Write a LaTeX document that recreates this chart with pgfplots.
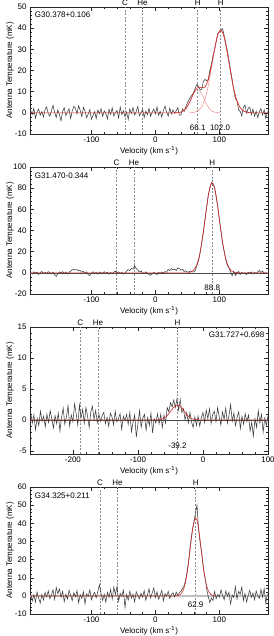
\documentclass[border=0pt]{standalone}
\usepackage{pgfplots}
\pgfplotsset{compat=1.18}
\usepackage{fontspec}
\setmainfont{Liberation Sans}
\definecolor{specgray}{HTML}{3C3C3C}
\definecolor{fitred}{HTML}{D42A2A}
\definecolor{comppink}{HTML}{F28A8A}
\definecolor{dashgray}{HTML}{8A8A8A}
\newcommand{\lbl}{\fontsize{8}{9}\selectfont}
\tikzset{
  lab/.style={font=\lbl, anchor=base, yshift=1.2pt, inner sep=0pt},
  specline/.style={specgray, line width=0.55pt},
  dline/.style={dashgray, line width=0.45pt, dash pattern=on 2pt off 1.6pt},
  zline/.style={black!70, line width=0.4pt},
}
\pgfplotsset{
  panel/.style={
    width=238pt, height=127pt, scale only axis, anchor=south west,
    clip mode=individual,
    /pgf/number format/assume math mode=true,
    scaled ticks=false,
    tick label style={font=\lbl},
    tick align=inside,
    major tick length=4pt, minor tick length=2pt,
    every tick/.style={black!85, line width=0.4pt},
    axis line style={black!85, line width=0.5pt},
    xticklabel style={yshift=1pt},
    xlabel={Velocity (km s\textsuperscript{-1})},
    ylabel={Antenna Temperature (mK)},
    every axis x label/.style={at={(axis description cs:0.5,-0.13)}, anchor=center, font=\lbl},
    every axis y label/.style={at={(axis description cs:-0.084,0.5)}, rotate=90, anchor=center, font=\lbl},
    minor x tick num=4,
  },
}
\begin{document}
\begin{tikzpicture}
\useasboundingbox (0,0) rectangle (273pt,636pt);

% ---------------- Panel 1 ----------------
\begin{axis}[panel, at={(30pt,502pt)},
  xmin=-196, xmax=176, ymin=-10, ymax=50,
  xtick={-100,0,100}, ytick={-10,0,10,20,30,40,50}, minor y tick num=4]
\addplot[dline] coordinates {(-47.5,-10) (-47.5,50)};
\addplot[dline] coordinates {(-20.2,-10) (-20.2,50)};
\addplot[dline] coordinates {(66.1,-10) (66.1,50)};
\addplot[dline] coordinates {(102.0,-10) (102.0,50)};
\addplot[specline] table[header=false, row sep=\\, x expr=\coordindex*2.5-195, y index=0]{
1.2\\ -0.8\\ 2.1\\ -2.5\\ 0.4\\ 1.8\\ -1.1\\ 0.6\\ -2.0\\ 1.5\\
2.8\\ -0.3\\ -1.6\\ 1.0\\ 3.5\\ 0.2\\ -2.2\\ 1.4\\ -0.9\\ -3.8\\
0.7\\ 2.4\\ -1.3\\ 0.3\\ 1.9\\ -2.7\\ 0.9\\ 3.1\\ 2.2\\ -0.5\\
3.4\\ 1.1\\ -1.8\\ 2.6\\ 0.8\\ -2.3\\ -0.6\\ 1.6\\ -3.0\\ -1.2\\
0.5\\ -2.6\\ 1.3\\ -0.4\\ 2.0\\ -1.7\\ 0.9\\ -0.2\\ -2.9\\ 1.7\\
-0.7\\ 2.3\\ -1.5\\ 0.1\\ 1.2\\ -2.4\\ 2.7\\ -0.8\\ 1.0\\ -1.9\\
0.4\\ -3.1\\ 1.8\\ -0.3\\ 2.5\\ -1.0\\ 0.6\\ 3.0\\ -1.4\\ -0.1\\
1.5\\ -2.2\\ 0.8\\ -0.9\\ 2.1\\ -1.6\\ 0.3\\ 1.9\\ -0.5\\ 2.8\\
-1.2\\ 0.7\\ -2.0\\ 1.1\\ 3.2\\ 0.4\\ -1.5\\ 2.2\\ -0.6\\ 1.4\\
-0.3\\ 0.9\\ 2.5\\ -1.1\\
-1.0\\ 1.9\\ 0.6\\ 2.9\\ 4.6\\ 6.2\\ 7.5\\ 8.5\\ 9.7\\ 11.9\\
13.5\\ 12.4\\ 10.8\\ 11.1\\ 14.9\\ 15.8\\ 15.1\\ 15.7\\ 19.9\\ 22.8\\
27.0\\ 29.7\\ 33.6\\ 37.4\\ 38.3\\ 39.0\\ 39.7\\ 36.5\\ 32.8\\ 29.4\\
24.7\\ 20.2\\ 15.8\\ 10.6\\ 6.8\\ 5.6\\ 1.5\\ 0.7\\ -1.5\\ 2.6\\
3.7\\ -0.1\\ 2.0\\ 2.7\\ -0.9\\ 1.7\\ -1.6\\ 0.8\\ -2.2\\ 0.5\\
2.0\\ -1.0\\ 1.4\\ -2.5\\ 0.6\\
};
\addplot[comppink, line width=0.5pt] coordinates {
(30,0.02) (32,0.03) (34,0.07) (36,0.12) (38,0.22) (40,0.37) (42,0.62) (44,0.98) (46,1.49) (48,2.18)
(50,3.06) (52,4.13) (54,5.36) (56,6.67) (58,7.99) (60,9.19) (62,10.15) (64,10.78) (66,11.0) (68,10.78)
(70,10.15) (72,9.19) (74,7.99) (76,6.67) (78,5.36) (80,4.13) (82,3.06) (84,2.18) (86,1.49) (88,0.98)
(90,0.62) (92,0.37) (94,0.22) (96,0.12) (98,0.07) (100,0.03) (102,0.02)};
\addplot[comppink, line width=0.5pt] coordinates {
(54,0.04) (56,0.07) (58,0.13) (60,0.21) (62,0.34) (64,0.54) (66,0.84) (68,1.28) (70,1.88) (72,2.72)
(74,3.83) (76,5.27) (78,7.10) (80,9.32) (82,11.93) (84,14.95) (86,18.29) (88,21.84) (90,25.47) (92,29.02)
(94,32.27) (96,35.06) (98,37.21) (100,38.53) (102,39.0) (104,38.53) (106,37.21) (108,35.06) (110,32.27) (112,29.02)
(114,25.47) (116,21.84) (118,18.29) (120,14.95) (122,11.93) (124,9.32) (126,7.10) (128,5.27) (130,3.83) (132,2.72)
(134,1.88) (136,1.28) (138,0.84) (140,0.54) (142,0.34) (144,0.21) (146,0.13) (148,0.07) (150,0.04)};
\addplot[fitred, line width=0.6pt] coordinates {
(-196,0) (28,0) (30,0.02) (32,0.03) (34,0.07) (36,0.12) (38,0.22) (40,0.37) (42,0.62) (44,0.98) (46,1.49) (48,2.18)
(50,3.06) (52,4.13) (54,5.40) (56,6.74) (58,8.12) (60,9.40) (62,10.49) (64,11.32) (66,11.84) (68,12.06)
(70,12.03) (72,11.91) (74,11.82) (76,11.94) (78,12.46) (80,13.45) (82,14.99) (84,17.13) (86,19.78) (88,22.82)
(90,26.09) (92,29.39) (94,32.49) (96,35.18) (98,37.28) (100,38.56) (102,39.02) (104,38.53) (106,37.21) (108,35.06)
(110,32.27) (112,29.02) (114,25.47) (116,21.84) (118,18.29) (120,14.95) (122,11.93) (124,9.32) (126,7.10) (128,5.27)
(130,3.83) (132,2.72) (134,1.88) (136,1.28) (138,0.84) (140,0.54) (142,0.34) (144,0.21) (146,0.13) (148,0.07) (150,0.04) (152,0) (176,0)};
\node[lab] at (axis cs:-47.5,50) {C};
\node[lab] at (axis cs:-20.2,50) {He};
\node[lab] at (axis cs:66.1,50) {H};
\node[lab] at (axis cs:102.0,50) {H};
\node[font=\lbl] at (axis cs:66.1,-7) {66.1};
\node[font=\lbl] at (axis cs:101,-7) {102.0};
\node[font=\lbl, anchor=west, inner sep=0pt] at (rel axis cs:0.02,0.937) {G30.378+0.106};
\end{axis}

% ---------------- Panel 2 ----------------
\begin{axis}[panel, at={(30pt,342pt)},
  xmin=-196, xmax=176, ymin=-20, ymax=100,
  xtick={-100,0,100}, ytick={-20,0,20,40,60,80,100}, minor y tick num=4]
\addplot[dline] coordinates {(-60.7,-20) (-60.7,100)};
\addplot[dline] coordinates {(-33.4,-20) (-33.4,100)};
\addplot[dline] coordinates {(88.8,-20) (88.8,100)};
\addplot[zline] coordinates {(-196,0) (176,0)};
\addplot[specline] table[header=false, row sep=\\, x expr=\coordindex*2.5-195, y index=0]{
0.5\\ -1.2\\ 1.0\\ -0.4\\ 0.8\\ -1.5\\ 0.2\\ 1.3\\ -0.6\\ 0.4\\
-1.0\\ 1.1\\ 0.3\\ -0.9\\ 0.6\\ -2.0\\ -3.5\\ -0.8\\ 0.9\\ -0.2\\
1.2\\ -0.5\\ 0.7\\ -1.1\\ 0.4\\ 1.6\\ 2.8\\ 3.4\\ 2.5\\ 3.1\\
1.9\\ 2.3\\ 0.6\\ 1.4\\ -0.3\\ 0.9\\ -1.8\\ -2.6\\ -0.4\\ 1.0\\
-0.7\\ 0.5\\ -1.3\\ 0.8\\ 0.2\\ -0.9\\ 1.1\\ -0.5\\ 0.6\\ -1.4\\
0.3\\ -0.8\\ 0.7\\ 1.5\\ -0.2\\ 0.9\\ -0.6\\ 0.4\\ -1.2\\ -0.3\\
1.8\\ 3.0\\ 2.2\\ 4.1\\ 3.5\\ 6.8\\ 4.0\\ 2.6\\ 0.8\\ 1.9\\
0.2\\ -0.9\\ 1.0\\ -0.4\\ -1.6\\ -2.4\\ -1.0\\ 0.3\\ -0.5\\ -1.8\\
0.4\\ -0.6\\ 0.9\\ -0.3\\ 1.2\\ 0.6\\ 3.2\\ 2.1\\ 4.0\\ 2.8\\
3.6\\ 2.2\\ 4.8\\ 3.9\\ 2.5\\ 3.4\\ 1.2\\ 2.0\\ 0.6\\ 1.1\\
1.7\\ 0.8\\ 0.9\\ 2.4\\ 7.2\\ 11.5\\ 19.3\\ 29.2\\ 38.5\\ 50.7\\
61.2\\ 73.1\\ 80.4\\ 85.2\\ 84.1\\ 80.8\\ 71.7\\ 62.6\\ 50.0\\ 39.8\\
28.4\\ 20.5\\ 12.4\\ 7.1\\ 4.5\\ 1.0\\ -2.7\\ 1.4\\ -2.4\\ -0.5\\
1.3\\ -1.6\\ 0.4\\ -0.9\\ 0.2\\ -1.7\\ 0.6\\ -0.3\\ 0.8\\ -1.1\\
0.3\\ -0.6\\ 1.0\\ 2.2\\ 0.4\\ 1.7\\ -0.5\\ 0.2\\ -0.8\\
};
\addplot[fitred, line width=0.6pt] coordinates {
(-196,0) (52.5,0) (55,0.76) (57.5,1.48) (60,2.75) (62.5,4.88) (65,8.19) (67.5,13.0) (70,19.7) (72.5,28.4) (75,38.7)
(77.5,50.1) (80,61.7) (82.5,72.2) (85,80.1) (87.5,84.4) (88.8,85.0) (90,84.5) (92.5,80.3) (95,72.5) (97.5,62.2)
(100,50.6) (102.5,39.1) (105,28.7) (107.5,20.0) (110,13.3) (112.5,8.3) (115,5.0) (117.5,2.8) (120,1.5) (122.5,0.8)
(125,0.4) (127.5,0.2) (130,0) (176,0)};
\node[lab] at (axis cs:-60.7,100) {C};
\node[lab] at (axis cs:-33.4,100) {He};
\node[lab] at (axis cs:88.8,100) {H};
\node[font=\lbl] at (axis cs:88.8,-14) {88.8};
\node[font=\lbl, anchor=west, inner sep=0pt] at (rel axis cs:0.02,0.932) {G31.470-0.344};
\end{axis}

% ---------------- Panel 3 ----------------
\begin{axis}[panel, at={(30pt,182pt)},
  xmin=-266, xmax=100, ymin=-5.5, ymax=15,
  xtick={-200,-100,0,100}, ytick={-5,0,5,10,15}, minor y tick num=4]
\addplot[dline] coordinates {(-188.7,-5.5) (-188.7,15)};
\addplot[dline] coordinates {(-161.4,-5.5) (-161.4,15)};
\addplot[dline] coordinates {(-39.2,-5.5) (-39.2,15)};
\addplot[zline] coordinates {(-266,0) (100,0)};
\addplot[specline] table[header=false, row sep=\\, x expr=\coordindex*2.5-265, y index=0]{
1.2\\ -0.5\\ 0.8\\ -1.6\\ 0.3\\ -0.9\\ 1.4\\ -0.2\\ 0.6\\ -1.1\\
0.9\\ -0.4\\ 1.5\\ 0.2\\ -1.3\\ 0.7\\ -0.6\\ 1.1\\ -1.8\\ 0.4\\
1.9\\ -0.7\\ 0.5\\ 2.3\\ -1.0\\ 0.8\\ -0.3\\ 2.6\\ 1.0\\ -0.8\\
2.4\\ 0.3\\ 1.7\\ -0.5\\ 2.0\\ 0.6\\ -1.2\\ 1.3\\ 2.2\\ 0.1\\
1.5\\ -0.4\\ 0.9\\ -0.2\\ 0.7\\ 1.2\\ -0.6\\ 0.4\\ -1.0\\ 1.1\\
0.5\\ -0.8\\ 1.4\\ -0.3\\ 0.2\\ 1.0\\ -1.5\\ 0.6\\ -0.1\\ 0.9\\
-0.7\\ 1.2\\ -1.9\\ -0.4\\ 0.8\\ -2.8\\ -0.6\\ 1.5\\ -1.2\\ 0.3\\
0.9\\ -1.7\\ 0.4\\ -0.9\\ 1.1\\ -2.1\\ 0.2\\ -0.5\\
1.0\\ -0.6\\ 0.9\\ -1.2\\ 0.8\\ -0.5\\ 2.0\\ 1.3\\ 2.8\\ 2.1\\
3.2\\ 2.0\\ 3.4\\ 1.6\\ 3.3\\ 1.2\\ 1.8\\ 0.0\\ 1.2\\ -0.5\\
1.2\\ -0.4\\ -1.2\\ 0.5\\ -0.9\\
0.6\\ -1.0\\ 0.3\\ 1.2\\ -0.4\\ 1.6\\ 0.2\\ 1.8\\ -0.6\\ 0.9\\
1.4\\ -0.3\\ 2.0\\ 0.5\\ -0.8\\ 1.3\\ 0.1\\ 1.9\\ -0.5\\ 0.7\\
2.5\\ -0.2\\ 1.1\\ -0.9\\ 0.4\\ 1.3\\ -1.4\\ 0.6\\ -0.7\\ 1.0\\
-0.3\\ 0.8\\ -1.8\\ -0.4\\ -2.6\\ 0.2\\ -1.2\\ 1.5\\ -0.5\\ 0.9\\
-2.0\\ 0.3\\ -0.9\\ 0.7\\
};
\addplot[fitred, line width=0.6pt] coordinates {
(-266,0) (-71.2,0) (-69.2,0.03) (-67.2,0.05) (-65.2,0.08) (-63.2,0.13) (-61.2,0.21) (-59.2,0.32) (-57.2,0.48)
(-55.2,0.67) (-53.2,0.90) (-51.2,1.17) (-49.2,1.46) (-47.2,1.74) (-45.2,2.00) (-43.2,2.22) (-41.2,2.35) (-39.2,2.4)
(-37.2,2.35) (-35.2,2.22) (-33.2,2.00) (-31.2,1.74) (-29.2,1.46) (-27.2,1.17) (-25.2,0.90) (-23.2,0.67) (-21.2,0.48)
(-19.2,0.32) (-17.2,0.21) (-15.2,0.13) (-13.2,0.08) (-11.2,0.05) (-9.2,0.03) (-7.2,0) (100,0)};
\node[lab] at (axis cs:-188.7,15) {C};
\node[lab] at (axis cs:-161.4,15) {He};
\node[lab] at (axis cs:-39.2,15) {H};
\node[font=\lbl] at (axis cs:-39.2,-4.1) {-39.2};
\node[font=\lbl, anchor=east, inner sep=0pt] at (rel axis cs:0.985,0.937) {G31.727+0.698};
\end{axis}

% ---------------- Panel 4 ----------------
\begin{axis}[panel, at={(30pt,22pt)},
  xmin=-196, xmax=176, ymin=-10, ymax=60,
  xtick={-100,0,100}, ytick={-10,0,10,20,30,40,50,60}, minor y tick num=4]
\addplot[dline] coordinates {(-86.6,-10) (-86.6,60)};
\addplot[dline] coordinates {(-59.3,-10) (-59.3,60)};
\addplot[dline] coordinates {(62.9,-10) (62.9,60)};
\addplot[black!25, line width=1.6pt] coordinates {(-196,0) (176,0)};
\addplot[specline] table[header=false, row sep=\\, x expr=\coordindex*2.5-195, y index=0]{
1.5\\ -2.8\\ 0.6\\ -3.5\\ 2.1\\ -1.2\\ -4.0\\ 0.8\\ -2.3\\ 1.9\\
-0.6\\ 2.8\\ -1.5\\ 0.3\\ 3.4\\ -2.0\\ 4.6\\ 1.2\\ 3.8\\ -0.9\\
2.5\\ -3.2\\ 0.9\\ -1.8\\ 3.0\\ 0.4\\ -2.6\\ 1.7\\ -0.5\\ 2.9\\
-3.8\\ 0.7\\ -1.4\\ 2.2\\ -4.4\\ 1.1\\ -0.3\\ 3.3\\ -2.1\\ 0.5\\
1.8\\ -1.0\\ 2.4\\ 6.1\\ 1.4\\ -2.5\\ 0.9\\ -3.6\\ 2.0\\ -0.8\\
3.5\\ -1.7\\ 4.8\\ 0.6\\ 5.2\\ -2.9\\ 1.3\\ -0.4\\ 3.1\\ -6.4\\
0.8\\ -2.2\\ 2.6\\ -1.3\\ 1.0\\ -3.3\\ 2.3\\ 0.2\\ -1.6\\ 1.4\\
-0.7\\ 2.8\\ -2.4\\ 0.5\\ 3.9\\ -1.1\\ 1.6\\ 4.4\\ -0.9\\ 2.2\\
-1.8\\ 0.4\\ 3.0\\ -2.7\\ 1.2\\ -0.2\\ 2.5\\ -1.4\\ 0.9\\ 1.7\\
-0.6\\ 2.1\\ 0.3\\ 1.8\\
2.6\\ 4.2\\ 5.6\\ 9.3\\ 14.1\\ 21.1\\ 29.1\\ 35.6\\ 39.8\\ 45.5\\
50.0\\ 36.6\\ 29.1\\ 23.7\\ 15.2\\ 10.5\\ 4.1\\ -0.3\\ -3.7\\ -1.2\\
-2.6\\ 2.4\\
-1.5\\ 0.8\\ -0.7\\ 3.2\\ 0.4\\ -2.1\\ 2.6\\ -0.2\\ 1.9\\ -4.5\\
0.5\\ -1.0\\ 5.1\\ -1.8\\ 2.4\\ 0.9\\ 4.8\\ -2.6\\ 1.2\\ -3.4\\
0.3\\ 3.0\\ -0.9\\ 1.6\\ -2.2\\ 2.7\\ 0.1\\ -1.4\\ 3.6\\ -0.7\\
4.0\\ -3.9\\ 1.0\\
};
\addplot[fitred, line width=0.6pt] coordinates {
(-196,0) (30.9,0) (32.9,0.09) (34.9,0.19) (36.9,0.40) (38.9,0.80) (40.9,1.51) (42.9,2.70) (44.9,4.56) (46.9,7.31)
(48.9,11.08) (50.9,15.87) (52.9,21.53) (54.9,27.61) (56.9,33.54) (58.9,38.49) (60.9,41.84) (62.9,43.0)
(64.9,41.84) (66.9,38.49) (68.9,33.54) (70.9,27.61) (72.9,21.53) (74.9,15.87) (76.9,11.08) (78.9,7.31)
(80.9,4.56) (82.9,2.70) (84.9,1.51) (86.9,0.80) (88.9,0.40) (90.9,0.19) (92.9,0.09) (94.9,0)};
\node[lab] at (axis cs:-86.6,60) {C};
\node[lab] at (axis cs:-59.3,60) {He};
\node[lab] at (axis cs:62.9,60) {H};
\node[font=\lbl] at (axis cs:62.9,-4.8) {62.9};
\node[font=\lbl, anchor=west, inner sep=0pt] at (rel axis cs:0.02,0.935) {G34.325+0.211};
\end{axis}
\end{tikzpicture}
\end{document}
